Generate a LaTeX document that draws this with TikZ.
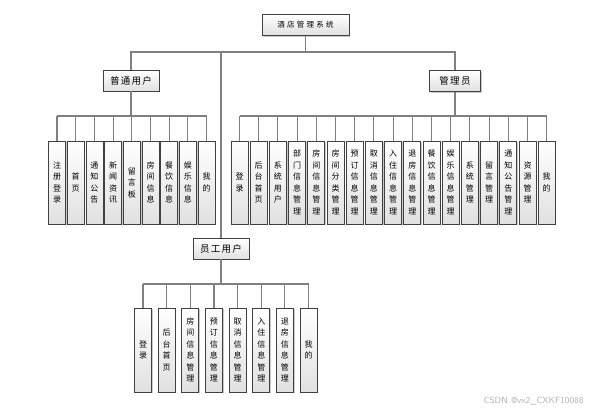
\documentclass[tikz,border=0pt]{standalone}
\usepackage{fontspec}
\newfontfamily\cjk{Noto Sans CJK SC}
\newfontfamily\cjkwide[LetterSpace=30]{Noto Sans CJK SC}
\newfontfamily\cjkmid[LetterSpace=14]{Noto Sans CJK SC}
\usetikzlibrary{shadows}
\begin{document}
\begin{tikzpicture}[x=1pt,y=-1pt,
  box/.style={draw=black!75, line width=0.8pt, top color=white, bottom color=black!12,
    drop shadow={shadow xshift=1.2pt, shadow yshift=-1.2pt, fill=black!35, opacity=0.6},
    inner sep=0pt, align=center},
  topbox/.style={box, font=\cjkwide\fontsize{7.5}{9}\selectfont, minimum width=87pt, minimum height=21pt},
  midbox/.style={box, font=\cjkmid\fontsize{9.5}{12}\selectfont, minimum height=21pt},
  leaf/.style={box, font=\cjk\fontsize{8}{11.5}\selectfont, minimum width=17pt, minimum height=83pt, text width=17pt},
  conn/.style={draw=black!50, line width=1.1pt}
]
\useasboundingbox (0,0) rectangle (609,413);

% main nodes
\node[topbox] (root) at (305.5,25) {酒店管理系统};
\node[midbox, minimum width=56pt] (user) at (131,80.5) {普通用户};
\node[midbox, minimum width=51pt] (admin) at (455,81) {管理员};
\node[midbox, minimum width=56pt] (staff) at (221,248.5) {员工用户};

% junctions
\coordinate (j0) at (305.5,52);
\coordinate (ubar) at (0,116);
\coordinate (abar) at (0,116);
\coordinate (sbar) at (0,284);

\draw[conn] (root.south) -- (j0);
\draw[conn] (user.north) -- (user.north |- j0) -- (admin.north |- j0) -- (admin.north);
\draw[conn] (staff.north) -- (staff.north |- j0);

% user children
\foreach \t [count=\i] in {注\\册\\登\\录, 首\\页, 通\\知\\公\\告, 新\\闻\\资\\讯, 留\\言\\板, 房\\间\\信\\息, 餐\\饮\\信\\息, 娱\\乐\\信\\息, 我\\的}{
  \node[leaf] (u\i) at ({57+(\i-1)*18.7},182.5) {\t};
  \draw[conn] (u\i.north) -- (u\i.north |- ubar);
}
\draw[conn] (user.south) -- (user.south |- ubar);
\draw[conn] (u1.north |- ubar) -- (u9.north |- ubar);

% admin children
\foreach \t [count=\i] in {登\\录, 后\\台\\首\\页, 系\\统\\用\\户, 部\\门\\信\\息\\管\\理, 房\\间\\信\\息\\管\\理, 房\\间\\分\\类\\管\\理, 预\\订\\信\\息\\管\\理, 取\\消\\信\\息\\管\\理, 入\\住\\信\\息\\管\\理, 退\\房\\信\\息\\管\\理, 餐\\饮\\信\\息\\管\\理, 娱\\乐\\信\\息\\管\\理, 系\\统\\管\\理, 留\\言\\管\\理, 通\\知\\公\\告\\管\\理, 资\\源\\管\\理, 我\\的}{
  \node[leaf] (a\i) at ({239.5+(\i-1)*19.2},182.5) {\t};
  \draw[conn] (a\i.north) -- (a\i.north |- abar);
}
\draw[conn] (admin.south) -- (admin.south |- abar);
\draw[conn] (a1.north |- abar) -- (a17.north |- abar);

% staff children
\foreach \t [count=\i] in {登\\录, 后\\台\\首\\页, 房\\间\\信\\息\\管\\理, 预\\订\\信\\息\\管\\理, 取\\消\\信\\息\\管\\理, 入\\住\\信\\息\\管\\理, 退\\房\\信\\息\\管\\理, 我\\的}{
  \node[leaf, minimum height=84pt] (s\i) at ({143+(\i-1)*23.65},350) {\t};
  \draw[conn] (s\i.north) -- (s\i.north |- sbar);
}
\draw[conn] (staff.south) -- (staff.south |- sbar);
\draw[conn] (s1.north |- sbar) -- (s8.north |- sbar);

% watermark
\node[font=\fontsize{9}{11}\selectfont\sffamily, text=black!30, anchor=east] (wm) at (587,401) {CSDN @vx2\_CXKF10088};
\end{tikzpicture}
\end{document}
